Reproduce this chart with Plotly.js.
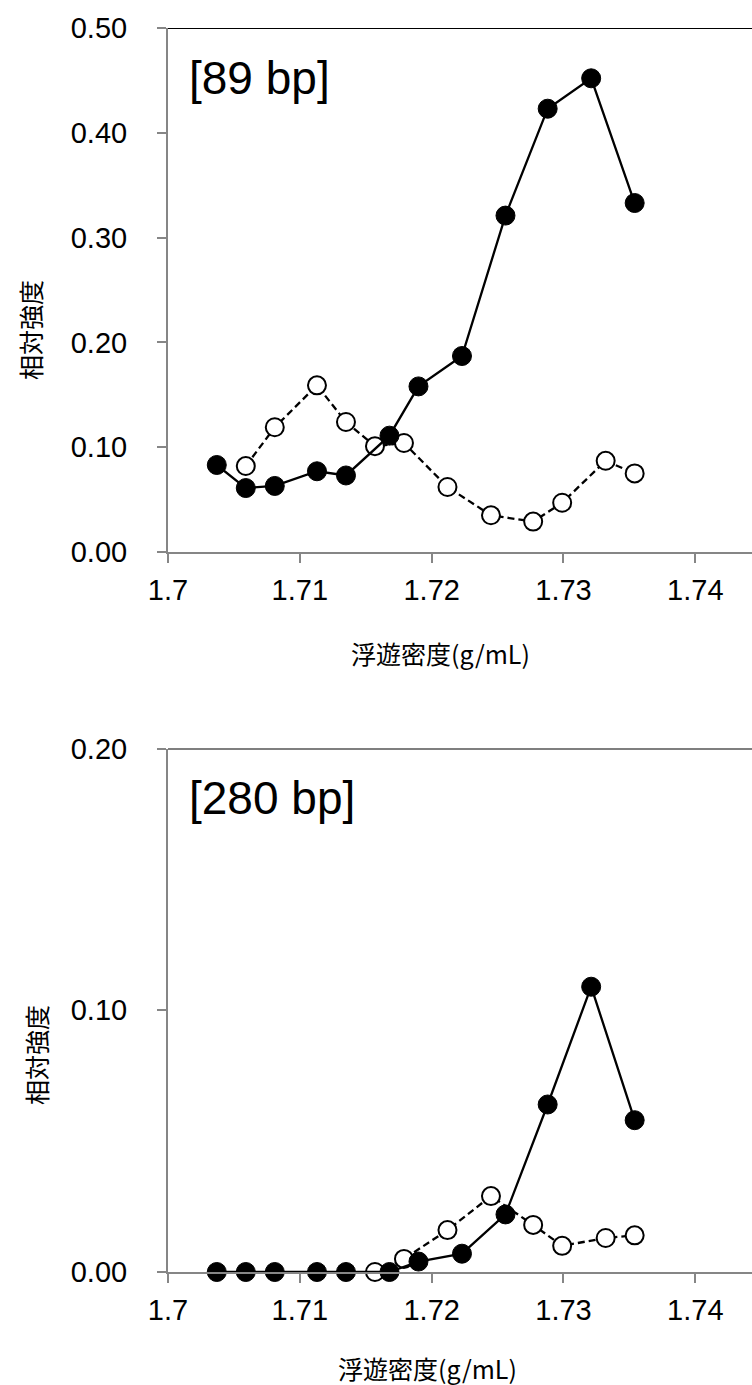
<!DOCTYPE html>
<html>
<head>
<meta charset="utf-8">
<script src="https://cdn.plot.ly/plotly-3.0.1.min.js"></script>
<style>
  html, body { margin: 0; padding: 0; background: #ffffff; }
  #chart { width: 752px; height: 1385px; }
</style>
</head>
<body>
<div id="chart"></div>
<script>
// Buoyant density (g/mL) of each fraction
const densitySolid = [1.7037, 1.7059, 1.7081, 1.7113, 1.7135, 1.7168, 1.7190, 1.7223, 1.7256, 1.7288, 1.7321, 1.7354];
const densityOpen89 = [1.7059, 1.7081, 1.7113, 1.7135, 1.7157, 1.7179, 1.7212, 1.7245, 1.7277, 1.7299, 1.7332, 1.7354];
const densityOpen280 = [1.7157, 1.7179, 1.7212, 1.7245, 1.7277, 1.7299, 1.7332, 1.7354];

// Relative intensity, 89 bp amplicon
const solid89 = [0.083, 0.061, 0.063, 0.077, 0.073, 0.111, 0.158, 0.187, 0.321, 0.423, 0.452, 0.333];
const open89 = [0.082, 0.119, 0.159, 0.124, 0.101, 0.104, 0.062, 0.035, 0.029, 0.047, 0.087, 0.075];

// Relative intensity, 280 bp amplicon
const solid280 = [0, 0, 0, 0, 0, 0, 0.004, 0.007, 0.022, 0.064, 0.109, 0.058];
const open280 = [0, 0.005, 0.016, 0.029, 0.018, 0.010, 0.013, 0.014];

// Axis ticks
const xTickVals = [1.70, 1.71, 1.72, 1.73, 1.74];
const xTickText = ['1.7', '1.71', '1.72', '1.73', '1.74'];
const yTickVals89 = [0, 0.1, 0.2, 0.3, 0.4, 0.5];
const yTickText89 = ['0.00', '0.10', '0.20', '0.30', '0.40', '0.50'];
const yTickVals280 = [0, 0.1, 0.2];
const yTickText280 = ['0.00', '0.10', '0.20'];

const panelLabels = ['[89 bp]', '[280 bp]'];
const xTitle = '浮遊密度(g/mL)';
const yTitle = '相対強度';

const AXIS_GREY = '#868686';
const latin = 'Liberation Sans, Arial, sans-serif';
const cjk = '"Noto Sans CJK JP", "Noto Sans CJK SC", sans-serif';

function openTrace(x, y, xa, ya) {
  return {
    x: x, y: y, xaxis: xa, yaxis: ya,
    type: 'scatter', mode: 'lines+markers', cliponaxis: false,
    line: { color: '#000', width: 2.3, dash: '7px,4px' },
    marker: { symbol: 'circle', size: 18, color: '#fff', line: { color: '#000', width: 2 } },
    showlegend: false, hoverinfo: 'x+y'
  };
}
function solidTrace(x, y, xa, ya) {
  return {
    x: x, y: y, xaxis: xa, yaxis: ya,
    type: 'scatter', mode: 'lines+markers', cliponaxis: false,
    line: { color: '#000', width: 2.3 },
    marker: { symbol: 'circle', size: 19, color: '#000', line: { color: '#000', width: 1 } },
    showlegend: false, hoverinfo: 'x+y'
  };
}

const traces = [
  openTrace(densityOpen89, open89, 'x', 'y'),
  solidTrace(densitySolid, solid89, 'x', 'y'),
  openTrace(densityOpen280, open280, 'x2', 'y2'),
  solidTrace(densitySolid, solid280, 'x2', 'y2')
];

function xAxis(domainAnchor) {
  return {
    anchor: domainAnchor,
    domain: [0, 1],
    range: [1.70, 1.7443],
    tickmode: 'array', tickvals: xTickVals, ticktext: xTickText,
    ticks: 'outside', ticklen: 9, tickwidth: 2, tickcolor: AXIS_GREY,
    showline: true, linecolor: AXIS_GREY, linewidth: 2,
    showgrid: false, zeroline: false,
    tickfont: { family: latin, size: 29, color: '#000' },
    ticklabelstandoff: 2
  };
}
function yAxis(domainAnchor, dom, top, vals, text) {
  return {
    anchor: domainAnchor,
    domain: dom,
    range: [0, top],
    tickmode: 'array', tickvals: vals, ticktext: text,
    ticks: 'outside', ticklen: 9, tickwidth: 2, tickcolor: AXIS_GREY,
    showline: true, linecolor: AXIS_GREY, linewidth: 2,
    showgrid: false, zeroline: false,
    tickfont: { family: latin, size: 29, color: '#000' },
    ticklabelstandoff: 24
  };
}

const layout = {
  width: 752, height: 1385,
  margin: { l: 168, r: 0, t: 28, b: 113, pad: 0 },
  paper_bgcolor: '#fff', plot_bgcolor: '#fff',
  showlegend: false,
  xaxis: xAxis('y'),
  yaxis: yAxis('x', [0.5788, 1], 0.5, yTickVals89, yTickText89),
  xaxis2: xAxis('y2'),
  yaxis2: yAxis('x2', [0, 0.4208], 0.2, yTickVals280, yTickText280),
  shapes: [
    { type: 'line', xref: 'x domain', yref: 'y', x0: 0, x1: 1, y0: 0.5, y1: 0.5, line: { color: '#000', width: 2 } },
    { type: 'line', xref: 'x2 domain', yref: 'y2', x0: 0, x1: 1, y0: 0.2, y1: 0.2, line: { color: '#000', width: 2 } }
  ],
  annotations: [
    { text: panelLabels[0], xref: 'paper', yref: 'paper', x: (187 - 168) / 584, y: (1272 - 78) / 1244,
      xanchor: 'left', yanchor: 'middle', showarrow: false, font: { family: latin, size: 46, color: '#000' } },
    { text: panelLabels[1], xref: 'paper', yref: 'paper', x: (187 - 168) / 584, y: (1272 - 798) / 1244,
      xanchor: 'left', yanchor: 'middle', showarrow: false, font: { family: latin, size: 46, color: '#000' } },
    { text: yTitle, xref: 'paper', yref: 'paper', x: (30 - 168) / 584, y: (1272 - 330) / 1244, textangle: -90,
      xanchor: 'center', yanchor: 'middle', showarrow: false, font: { family: cjk, size: 25, color: '#000' } },
    { text: yTitle, xref: 'paper', yref: 'paper', x: (36 - 168) / 584, y: (1272 - 1055) / 1244, textangle: -90,
      xanchor: 'center', yanchor: 'middle', showarrow: false, font: { family: cjk, size: 25, color: '#000' } },
    { text: xTitle, xref: 'paper', yref: 'paper', x: (440 - 168) / 584, y: (1272 - 653) / 1244,
      xanchor: 'center', yanchor: 'middle', showarrow: false, font: { family: cjk, size: 25, color: '#000' } },
    { text: xTitle, xref: 'paper', yref: 'paper', x: (427 - 168) / 584, y: (1272 - 1368) / 1244,
      xanchor: 'center', yanchor: 'middle', showarrow: false, font: { family: cjk, size: 25, color: '#000' } }
  ]
};

Plotly.newPlot('chart', traces, layout, { staticPlot: true, displayModeBar: false });
</script>
</body>
</html>
